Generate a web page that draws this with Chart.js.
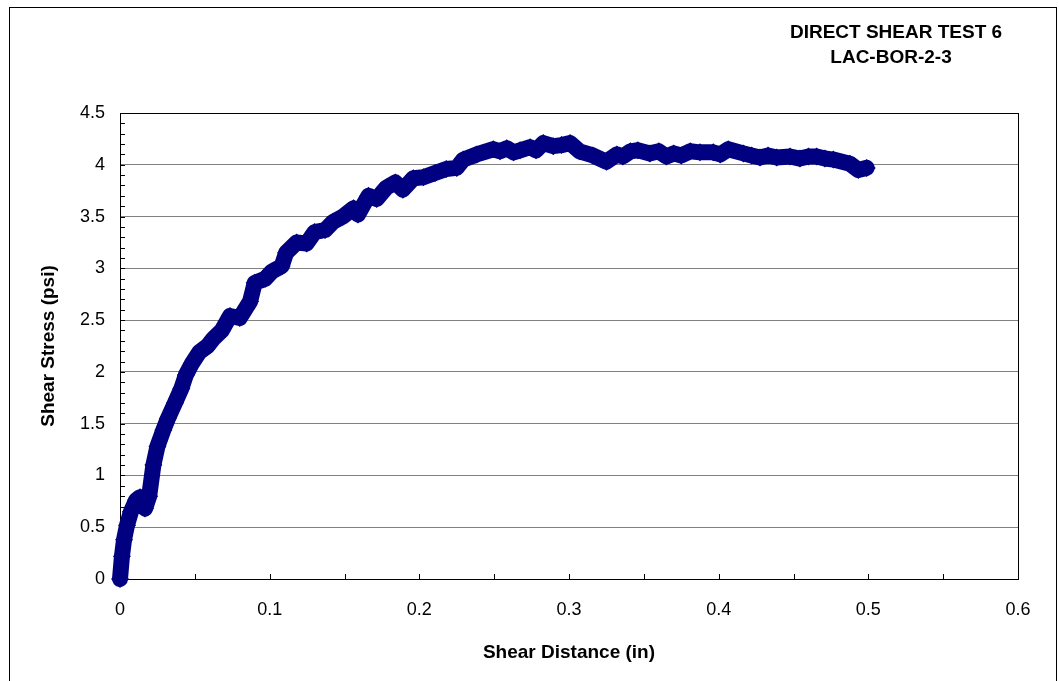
<!DOCTYPE html>
<html>
<head>
<meta charset="utf-8">
<script src="https://cdn.jsdelivr.net/npm/chart.js@4.4.1/dist/chart.umd.min.js"></script>
<style>
  html, body { margin: 0; padding: 0; background: #fff; }
  canvas { display: block; }
</style>
</head>
<body>
<canvas id="shear_chart" width="1059" height="681"></canvas>
<script>
// shear test readings
var shearDistance = [
  0, 0.0013, 0.0027, 0.0047, 0.0073, 0.0107, 0.0134, 0.0167, 0.0195, 0.0223,
  0.025, 0.029, 0.032, 0.0367, 0.041, 0.044, 0.048, 0.053, 0.0585, 0.0623,
  0.068, 0.0735, 0.080, 0.0869, 0.090, 0.097, 0.1015, 0.108, 0.111, 0.118,
  0.1247, 0.130, 0.137, 0.1425, 0.149, 0.156, 0.159, 0.166, 0.1715, 0.178,
  0.184, 0.189, 0.196, 0.2027, 0.2105, 0.218, 0.225, 0.2294, 0.2383, 0.2494,
  0.2540, 0.2584, 0.2630, 0.2673, 0.274, 0.2780, 0.2828, 0.2895, 0.2950, 0.3007,
  0.307, 0.316, 0.325, 0.332, 0.336, 0.341, 0.346, 0.354, 0.360, 0.365,
  0.370, 0.375, 0.381, 0.3875, 0.3964, 0.401, 0.4064, 0.4165, 0.4220, 0.4276,
  0.433, 0.4388, 0.4477, 0.4543, 0.460, 0.4655, 0.471, 0.4766, 0.4877, 0.4933,
  0.4989
];
var shearStress = [
  0, 0.22, 0.38, 0.52, 0.65, 0.76, 0.79, 0.68, 0.80, 1.10,
  1.28, 1.44, 1.55, 1.70, 1.84, 1.97, 2.08, 2.19, 2.25, 2.32,
  2.40, 2.54, 2.52, 2.68, 2.86, 2.90, 2.97, 3.02, 3.15, 3.25,
  3.24, 3.35, 3.37, 3.45, 3.50, 3.58, 3.52, 3.70, 3.67, 3.78,
  3.83, 3.76, 3.87, 3.88, 3.92, 3.96, 3.97, 4.05, 4.10, 4.15,
  4.13, 4.16, 4.12, 4.14, 4.17, 4.14, 4.21, 4.18, 4.19, 4.21,
  4.13, 4.09, 4.03, 4.10, 4.08, 4.13, 4.14, 4.11, 4.13, 4.08,
  4.11, 4.09, 4.13, 4.12, 4.12, 4.10, 4.15, 4.11, 4.09, 4.07,
  4.09, 4.07, 4.08, 4.06, 4.08, 4.08, 4.06, 4.05, 4.01, 3.95,
  3.97
];
var titleLines = ['DIRECT SHEAR TEST 6', 'LAC-BOR-2-3'];

var fontFamily = '"Liberation Sans", Arial, sans-serif';
var navy = '#000080';

var points = shearDistance.map(function (x, i) {
  return { x: x, y: shearStress[i] };
});

// outer frame, plot border, inward tick marks and the title block
var sheetDecor = {
  id: 'sheetDecor',
  beforeDraw: function (chart) {
    var ctx = chart.ctx;
    ctx.save();
    ctx.fillStyle = '#fff';
    ctx.fillRect(0, 0, chart.width, chart.height);
    ctx.strokeStyle = '#000';
    ctx.lineWidth = 1;
    ctx.strokeRect(9.5, 7.5, 1047, 700);
    ctx.restore();
  },
  beforeDatasetsDraw: function (chart) {
    var ctx = chart.ctx;
    var a = chart.chartArea;
    var xs = chart.scales.x, ys = chart.scales.y;
    ctx.save();
    ctx.strokeStyle = '#000';
    ctx.lineWidth = 1;
    ctx.strokeRect(Math.round(a.left) + 0.5, Math.round(a.top) + 0.5,
      Math.round(a.right - a.left), Math.round(a.bottom - a.top));
    ctx.beginPath();
    var v, p;
    for (v = 0; v <= 45; v++) {
      p = Math.round(ys.getPixelForValue(v / 10)) + 0.5;
      ctx.moveTo(a.left, p);
      ctx.lineTo(a.left + 5, p);
    }
    for (v = 0; v <= 12; v++) {
      p = Math.round(xs.getPixelForValue(v * 0.05)) + 0.5;
      ctx.moveTo(p, a.bottom);
      ctx.lineTo(p, a.bottom - 5);
    }
    ctx.stroke();
    ctx.restore();
  },
  afterDraw: function (chart) {
    var ctx = chart.ctx;
    ctx.save();
    ctx.fillStyle = '#000';
    ctx.font = 'bold 19px ' + fontFamily;
    ctx.textAlign = 'center';
    ctx.textBaseline = 'middle';
    ctx.fillText(titleLines[0], 896, 33);
    ctx.fillText(titleLines[1], 891, 58);
    ctx.restore();
  }
};

var ctx = document.getElementById('shear_chart').getContext('2d');
var shearChart = new Chart(ctx, {
  type: 'scatter',
  data: {
    datasets: [{
      data: points,
      showLine: true,
      clip: false,
      borderColor: navy,
      backgroundColor: navy,
      borderWidth: 16,
      borderJoinStyle: 'round',
      borderCapStyle: 'round',
      tension: 0,
      pointStyle: 'rectRot',
      pointRadius: 9,
      pointBorderWidth: 0,
      pointBackgroundColor: navy
    }]
  },
  options: {
    responsive: false,
    animation: false,
    devicePixelRatio: 1,
    layout: {
      padding: { top: 113, right: 41, left: 0, bottom: 0 }
    },
    plugins: {
      legend: { display: false },
      tooltip: { enabled: false }
    },
    scales: {
      x: {
        type: 'linear',
        min: 0,
        max: 0.6,
        afterFit: function (scale) { scale.height = 102; },
        grid: { display: false, drawTicks: false },
        border: { display: false },
        ticks: {
          stepSize: 0.1,
          padding: 20,
          color: '#000',
          font: { family: fontFamily, size: 18 },
          callback: function (value) { return String(Math.round(value * 10) / 10); }
        },
        title: {
          display: true,
          text: 'Shear Distance (in)',
          color: '#000',
          font: { family: fontFamily, size: 19, weight: 'bold' },
          padding: { top: 0, bottom: 17 }
        }
      },
      y: {
        type: 'linear',
        min: 0,
        max: 4.5,
        afterFit: function (scale) { scale.width = 120; },
        grid: { color: '#808080', lineWidth: 1, drawTicks: false },
        border: { display: false },
        ticks: {
          stepSize: 0.5,
          padding: 15,
          color: '#000',
          font: { family: fontFamily, size: 18 },
          callback: function (value) { return String(Math.round(value * 10) / 10); }
        },
        title: {
          display: true,
          text: 'Shear Stress (psi)',
          color: '#000',
          font: { family: fontFamily, size: 19, weight: 'bold' },
          padding: { top: 37, bottom: 0 }
        }
      }
    }
  },
  plugins: [sheetDecor]
});
</script>
</body>
</html>
